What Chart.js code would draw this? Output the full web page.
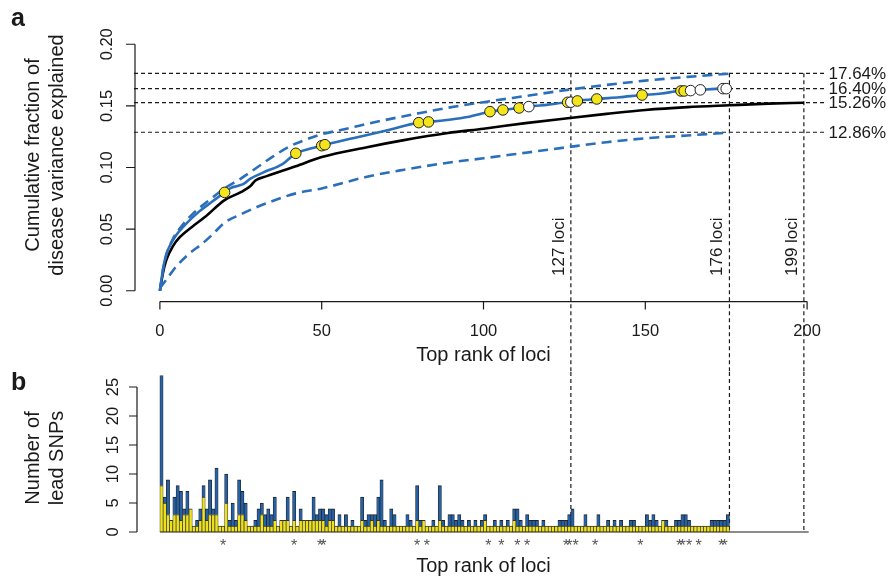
<!DOCTYPE html>
<html>
<head>
<meta charset="utf-8">
<script src="https://cdn.jsdelivr.net/npm/chart.js@4.4.1/dist/chart.umd.min.js"></script>
<style>
  body { margin: 0; background: #fff; }
  #wrap { position: relative; width: 890px; height: 579px; }
  canvas { position: absolute; left: 0; }
</style>
</head>
<body>
<div id="wrap">
  <canvas id="topChart" width="890" height="372" style="top:0"></canvas>
  <canvas id="botChart" width="890" height="207" style="top:372px"></canvas>
</div>
<script>
// panel a: cumulative fraction of variance explained
const blackRank = [0, 1, 2, 4, 6, 10, 14, 20, 25, 28, 29.5, 33, 42, 50, 64, 75, 89, 100, 113, 126, 138, 150, 163, 176, 188, 199];
const blackFrac = [0, 0.015, 0.025, 0.036, 0.043, 0.052, 0.060, 0.0735, 0.080, 0.085, 0.0895, 0.093, 0.101, 0.1085, 0.1165, 0.122, 0.128, 0.1315, 0.136, 0.140, 0.1435, 0.1467, 0.149, 0.1505, 0.1518, 0.1526];

const blueRank = [0, 1, 2, 3, 5, 8, 12, 16, 20, 22, 24, 26, 28, 32, 38, 42, 46, 50, 51, 60, 70, 80, 83, 90, 95, 102, 106, 111, 114, 120, 126, 127, 129, 135, 142, 149, 155, 161, 162, 164, 167, 174, 175, 176];
const blueFrac = [0, 0.018, 0.030, 0.036, 0.045, 0.054, 0.064, 0.072, 0.0798, 0.0835, 0.085, 0.087, 0.091, 0.096, 0.103, 0.1115, 0.115, 0.1177, 0.1185, 0.124, 0.130, 0.1364, 0.137, 0.139, 0.141, 0.1453, 0.1467, 0.1483, 0.1494, 0.151, 0.1529, 0.153, 0.154, 0.1556, 0.157, 0.1588, 0.160, 0.1621, 0.1621, 0.1624, 0.163, 0.164, 0.164, 0.1642];

const upperRank = [0, 1, 2, 4, 6, 10, 15, 20, 25, 30, 35, 40, 45, 50, 57, 64, 80, 89, 100, 113, 126, 138, 150, 163, 176];
const upperFrac = [0, 0.018, 0.029, 0.042, 0.050, 0.062, 0.073, 0.083, 0.091, 0.100, 0.109, 0.117, 0.1225, 0.127, 0.131, 0.1354, 0.144, 0.1485, 0.153, 0.158, 0.163, 0.167, 0.1705, 0.1735, 0.1762];

const lowerRank = [0, 2, 5, 9, 13, 16, 20, 25, 29, 35, 42, 50, 64, 75, 89, 100, 113, 126, 138, 150, 163, 176];
const lowerFrac = [0.002, 0.009, 0.0195, 0.030, 0.038, 0.045, 0.0552, 0.062, 0.0668, 0.073, 0.079, 0.083, 0.0925, 0.098, 0.1039, 0.1075, 0.112, 0.1165, 0.1205, 0.1237, 0.126, 0.1283];

const dotRank = [20, 42, 50, 51, 80, 83, 102, 106, 111, 114, 126, 127, 129, 135, 149, 161, 162, 164, 167, 174, 175];
const dotFrac = [0.0798, 0.1115, 0.1177, 0.1185, 0.1364, 0.137, 0.1453, 0.1467, 0.1483, 0.1494, 0.1529, 0.153, 0.154, 0.1556, 0.1588, 0.1621, 0.1621, 0.1624, 0.163, 0.164, 0.164];
const dotWhite = [false, false, false, false, false, false, false, false, false, true, false, true, false, false, false, false, false, true, true, true, true];

const refLines = [0.1764, 0.1640, 0.1526, 0.1286];
const refLabels = ['17.64%', '16.40%', '15.26%', '12.86%'];
const lociCuts = [127, 176, 199];
const lociLabels = ['127 loci', '176 loci', '199 loci'];

const xTicks = [0, 50, 100, 150, 200];
const yTicksTop = [0, 0.05, 0.10, 0.15, 0.20];
const yLabelsTop = ['0.00', '0.05', '0.10', '0.15', '0.20'];

// panel b: number of lead SNPs per locus (total and yellow part)
const leadTotal = [
  27, 6, 9, 2, 6, 8, 7, 4, 7, 4,
  1, 2, 4, 8, 4, 9, 4, 11, 1, 1,
  10, 2, 5, 2, 9, 7, 5, 1, 1, 2,
  4, 5, 3, 4, 3, 6, 1, 2, 2, 6,
  1, 7, 1, 4, 2, 2, 2, 6, 3, 4,
  4, 3, 4, 4, 1, 3, 1, 3, 1, 2,
  1, 1, 6, 2, 3, 3, 3, 6, 9, 2,
  1, 4, 3, 1, 1, 1, 3, 2, 1, 8,
  2, 2, 1, 1, 2, 1, 8, 2, 1, 3,
  3, 2, 3, 2, 1, 2, 1, 2, 1, 2,
  3, 1, 1, 2, 1, 2, 1, 2, 1, 4,
  4, 2, 1, 3, 2, 2, 2, 1, 2, 1,
  1, 1, 1, 2, 2, 2, 3, 4, 1, 1,
  1, 3, 1, 1, 1, 3, 1, 1, 2, 1,
  2, 1, 2, 1, 1, 2, 2, 1, 1, 1,
  3, 2, 3, 2, 1, 2, 2, 1, 1, 2,
  2, 3, 3, 2, 1, 1, 1, 1, 1, 1,
  2, 2, 2, 2, 2, 3
];
const leadYellow = [
  8, 5, 3, 2, 3, 3, 2, 3, 3, 4,
  1, 1, 2, 6, 2, 3, 3, 3, 1, 1,
  5, 1, 1, 1, 3, 3, 2, 1, 1, 1,
  1, 3, 1, 1, 1, 2, 1, 2, 2, 2,
  1, 2, 1, 2, 2, 2, 2, 2, 2, 2,
  2, 1, 2, 2, 1, 1, 1, 1, 1, 1,
  1, 1, 2, 1, 1, 2, 1, 2, 1, 1,
  1, 1, 1, 1, 1, 1, 1, 1, 1, 2,
  1, 2, 1, 1, 1, 1, 2, 1, 1, 1,
  1, 1, 1, 1, 1, 1, 1, 1, 1, 1,
  2, 1, 1, 1, 1, 1, 1, 1, 1, 2,
  1, 1, 1, 1, 1, 1, 1, 1, 1, 1,
  1, 1, 1, 1, 1, 1, 1, 1, 1, 1,
  1, 1, 1, 1, 1, 1, 1, 1, 1, 1,
  1, 1, 1, 1, 1, 1, 1, 1, 1, 1,
  1, 1, 1, 1, 1, 2, 1, 1, 1, 1,
  1, 1, 1, 1, 1, 1, 1, 1, 1, 1,
  1, 1, 1, 1, 1, 1
];
const yTicksBot = [0, 5, 10, 15, 20, 25];

const FONT = '"Liberation Sans", Arial, Helvetica, sans-serif';
const INK = '#1a1a1a';
Chart.defaults.font.family = FONT;

function pts(xs, ys) {
  return xs.map((x, i) => ({ x: x, y: ys[i] }));
}

function vText(ctx, txt, x, y, align) {
  ctx.save();
  ctx.translate(x, y);
  ctx.rotate(-Math.PI / 2);
  ctx.textAlign = align || 'center';
  ctx.textBaseline = 'middle';
  ctx.fillText(txt, 0, 0);
  ctx.restore();
}

const topDecor = {
  id: 'topDecor',
  beforeDatasetsDraw(chart) {
    const ctx = chart.ctx, xs = chart.scales.x, ys = chart.scales.y, a = chart.chartArea;
    ctx.save();
    ctx.strokeStyle = INK;
    ctx.lineWidth = 1.2;
    ctx.setLineDash([4, 3]);
    refLines.forEach(v => {
      const y = ys.getPixelForValue(v);
      ctx.beginPath();
      ctx.moveTo(a.left, y);
      ctx.lineTo(xs.getPixelForValue(206), y);
      ctx.stroke();
    });
    const yTop = ys.getPixelForValue(refLines[0]);
    lociCuts.forEach(c => {
      const x = xs.getPixelForValue(c);
      ctx.beginPath();
      ctx.moveTo(x, yTop);
      ctx.lineTo(x, chart.height);
      ctx.stroke();
    });
    ctx.restore();
  },
  afterDraw(chart) {
    const ctx = chart.ctx, xs = chart.scales.x, ys = chart.scales.y, a = chart.chartArea;
    ctx.save();
    ctx.strokeStyle = INK;
    ctx.fillStyle = INK;
    ctx.lineWidth = 1.2;
    ctx.setLineDash([]);

    // y axis
    const xl = a.left + 1;
    ctx.beginPath();
    ctx.moveTo(xl, ys.getPixelForValue(yTicksTop[0]));
    ctx.lineTo(xl, ys.getPixelForValue(yTicksTop[yTicksTop.length - 1]));
    yTicksTop.forEach(v => {
      const y = ys.getPixelForValue(v);
      ctx.moveTo(xl, y);
      ctx.lineTo(xl - 9, y);
    });
    ctx.stroke();
    ctx.font = '16.5px ' + FONT;
    yTicksTop.forEach((v, i) => vText(ctx, yLabelsTop[i], 107, ys.getPixelForValue(v)));

    // x axis
    const yb = a.bottom + 1;
    ctx.beginPath();
    ctx.moveTo(xs.getPixelForValue(xTicks[0]), yb);
    ctx.lineTo(xs.getPixelForValue(xTicks[xTicks.length - 1]), yb);
    xTicks.forEach(v => {
      const x = xs.getPixelForValue(v);
      ctx.moveTo(x, yb);
      ctx.lineTo(x, yb + 8);
    });
    ctx.stroke();
    ctx.textAlign = 'center';
    ctx.textBaseline = 'middle';
    xTicks.forEach(v => ctx.fillText(String(v), xs.getPixelForValue(v), 331));

    ctx.font = '20px ' + FONT;
    ctx.fillText('Top rank of loci', xs.getPixelForValue(100), 355);
    vText(ctx, 'Cumulative fraction of', 33, 155);
    vText(ctx, 'disease variance explained', 57, 155);

    // labels for reference lines
    ctx.font = '17px ' + FONT;
    ctx.textAlign = 'left';
    refLines.forEach((v, i) => ctx.fillText(refLabels[i], xs.getPixelForValue(206) + 2, ys.getPixelForValue(v) + 1));
    lociCuts.forEach((c, i) => vText(ctx, lociLabels[i], xs.getPixelForValue(c) - 12, 276, 'left'));

    ctx.font = 'bold 25px ' + FONT;
    ctx.textAlign = 'left';
    ctx.textBaseline = 'alphabetic';
    ctx.fillText('a', 11, 26);
    ctx.restore();
  }
};

const botDecor = {
  id: 'botDecor',
  beforeDatasetsDraw(chart) {
    const ctx = chart.ctx, xs = chart.scales.x, ys = chart.scales.y;
    ctx.save();
    ctx.strokeStyle = INK;
    ctx.lineWidth = 1.2;
    ctx.setLineDash([4, 3]);
    lociCuts.forEach(c => {
      const x = xs.getPixelForValue(c);
      ctx.beginPath();
      ctx.moveTo(x, 0);
      ctx.lineTo(x, ys.getPixelForValue(0));
      ctx.stroke();
    });
    ctx.restore();
  },
  afterDraw(chart) {
    const ctx = chart.ctx, xs = chart.scales.x, ys = chart.scales.y, a = chart.chartArea;
    ctx.save();
    ctx.strokeStyle = INK;
    ctx.fillStyle = INK;
    ctx.lineWidth = 1.2;

    // baseline
    const y0 = ys.getPixelForValue(0);
    ctx.beginPath();
    ctx.moveTo(xs.getPixelForValue(0), y0);
    ctx.lineTo(xs.getPixelForValue(200.5), y0);
    ctx.stroke();

    // y axis
    const xl = a.left + 3;
    ctx.beginPath();
    ctx.moveTo(xl, ys.getPixelForValue(yTicksBot[0]));
    ctx.lineTo(xl, ys.getPixelForValue(yTicksBot[yTicksBot.length - 1]));
    yTicksBot.forEach(v => {
      const y = ys.getPixelForValue(v);
      ctx.moveTo(xl, y);
      ctx.lineTo(xl - 8, y);
    });
    ctx.stroke();
    ctx.font = '16.5px ' + FONT;
    yTicksBot.forEach(v => vText(ctx, String(v), 113, ys.getPixelForValue(v)));

    // asterisks under loci marked in panel a
    ctx.fillStyle = '#555';
    ctx.font = '16px ' + FONT;
    ctx.textAlign = 'center';
    ctx.textBaseline = 'alphabetic';
    dotRank.forEach(r => ctx.fillText('*', xs.getPixelForValue(r - 0.5), 179));

    ctx.fillStyle = INK;
    ctx.font = '20px ' + FONT;
    ctx.textBaseline = 'middle';
    ctx.fillText('Top rank of loci', xs.getPixelForValue(100), 194);
    vText(ctx, 'Number of', 33, 86);
    vText(ctx, 'lead SNPs', 57, 86);

    ctx.font = 'bold 25px ' + FONT;
    ctx.textAlign = 'left';
    ctx.textBaseline = 'alphabetic';
    ctx.fillText('b', 11, 18);
    ctx.restore();
  }
};

new Chart(document.getElementById('topChart'), {
  type: 'line',
  data: {
    datasets: [
      {
        type: 'scatter',
        data: pts(dotRank, dotFrac),
        pointRadius: 5.3,
        pointBackgroundColor: dotWhite.map(w => w ? '#ffffff' : '#f4e41c'),
        pointBorderColor: '#222',
        pointBorderWidth: 1,
        showLine: false,
        order: 0
      },
      {
        data: pts(blueRank, blueFrac),
        borderColor: '#2b6fbb',
        borderWidth: 2.6,
        pointRadius: 0,
        cubicInterpolationMode: 'monotone',
        order: 1
      },
      {
        data: pts(upperRank, upperFrac),
        borderColor: '#2b6fbb',
        borderWidth: 2.6,
        borderDash: [10, 6],
        pointRadius: 0,
        cubicInterpolationMode: 'monotone',
        order: 2
      },
      {
        data: pts(lowerRank, lowerFrac),
        borderColor: '#2b6fbb',
        borderWidth: 2.6,
        borderDash: [10, 6],
        pointRadius: 0,
        cubicInterpolationMode: 'monotone',
        order: 2
      },
      {
        data: pts(blackRank, blackFrac),
        borderColor: '#000',
        borderWidth: 2.6,
        pointRadius: 0,
        cubicInterpolationMode: 'monotone',
        order: 3
      }
    ]
  },
  options: {
    responsive: false,
    animation: false,
    events: [],
    layout: { padding: { left: 134, right: 57, top: 34.4, bottom: 71.4 } },
    plugins: { legend: { display: false }, tooltip: { enabled: false } },
    scales: {
      x: { type: 'linear', min: -8, max: 208, display: false },
      y: { type: 'linear', min: -0.008, max: 0.208, display: false }
    }
  },
  plugins: [topDecor]
});

const barBorder = { top: 1, left: 0.7, right: 0.7, bottom: 0 };

new Chart(document.getElementById('botChart'), {
  type: 'bar',
  data: {
    datasets: [
      {
        data: leadYellow.map((v, i) => ({ x: i + 0.5, y: v })),
        backgroundColor: '#eee21c',
        borderColor: '#333',
        borderWidth: barBorder,
        borderSkipped: false
      },
      {
        data: leadTotal.map((v, i) => ({ x: i + 0.5, y: v - leadYellow[i] })),
        backgroundColor: '#2461a7',
        borderColor: '#222',
        borderWidth: barBorder,
        borderSkipped: false
      }
    ]
  },
  options: {
    responsive: false,
    animation: false,
    events: [],
    layout: { padding: { left: 134, right: 57, top: 3.4, bottom: 47 } },
    plugins: { legend: { display: false }, tooltip: { enabled: false } },
    datasets: { bar: { barPercentage: 1, categoryPercentage: 1 } },
    scales: {
      x: { type: 'linear', min: -8, max: 208, offset: false, stacked: true, display: false },
      y: { type: 'linear', min: 0, max: 27, stacked: true, display: false }
    }
  },
  plugins: [botDecor]
});
</script>
</body>
</html>
